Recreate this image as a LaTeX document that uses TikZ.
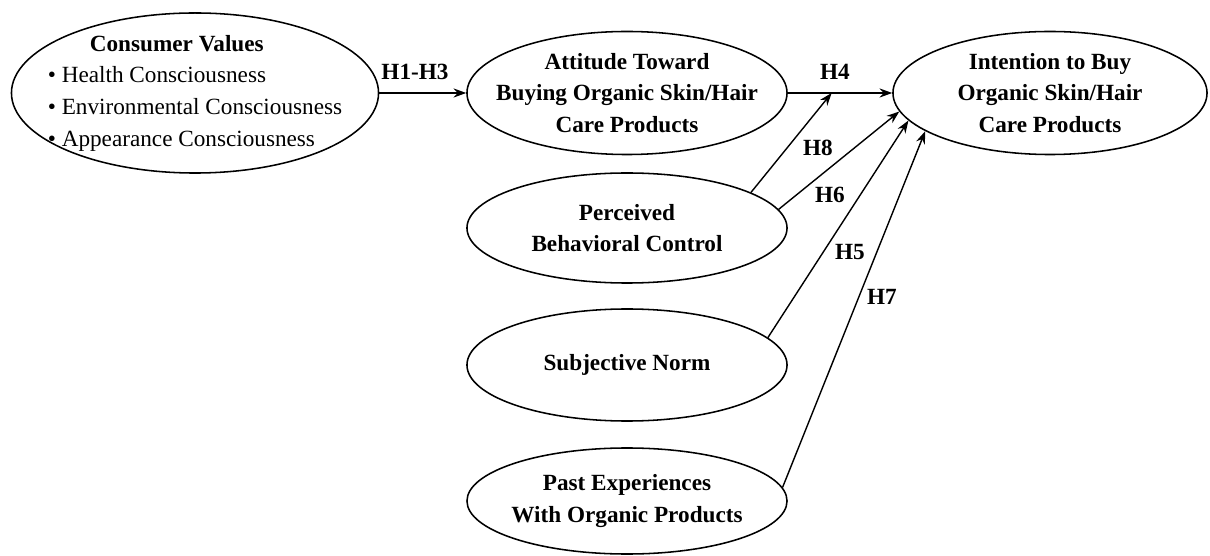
\documentclass[tikz,border=0pt]{standalone}
\usepackage{fontspec}
\setmainfont{Liberation Serif}
\usetikzlibrary{shapes.geometric,arrows.meta,calc}

\begin{document}
\begin{tikzpicture}[x=0.025cm, y=-0.025cm,
    ellip/.style={ellipse, draw, line width=1.1pt, inner xsep=-3cm, inner ysep=-2cm,
      align=center, font=\fontsize{16.5}{22.5}\selectfont\bfseries},
    hyp/.style={font=\fontsize{16.5}{19}\selectfont\bfseries},
    arr/.style={-{Stealth[length=9pt,width=6.5pt]}, line width=1pt}]
  \useasboundingbox (0,0) rectangle (1210,556);
  % Constructs
  \node[ellip, minimum width=9.175cm, minimum height=4cm, align=left,
        font=\fontsize{16.5}{22.5}\selectfont] (cv) at (195,93)
    {\hspace*{1.05cm}\textbf{Consumer Values}\\
     \textbullet{} Health Consciousness\\
     \textbullet{} Environmental Consciousness\\
     \textbullet{} Appearance Consciousness};
  \node[ellip, minimum width=8cm, minimum height=3.075cm] (att) at (627,93)
    {Attitude Toward\\ Buying Organic Skin/Hair\\ Care Products};
  \node[ellip, minimum width=7.85cm, minimum height=3.075cm] (int) at (1050,93)
    {Intention to Buy\\ Organic Skin/Hair\\ Care Products};
  \node[ellip, minimum width=8cm, minimum height=2.75cm] (pbc) at (627,228)
    {Perceived\\ Behavioral Control};
  \node[ellip, minimum width=8cm, minimum height=2.8cm] (sn) at (627,365)
    {Subjective Norm};
  \node[ellip, minimum width=8cm, minimum height=2.65cm] (past) at (627,501)
    {Past Experiences\\ With Organic Products};
  % Paths
  \draw[arr] (cv.east) -- (att.west);
  \draw[arr] (att.east) -- (int.west);
  \coordinate (mod) at ($(att.east)!0.42!(int.west)$);
  \draw[arr] (pbc.16) -- (mod);
  \draw[arr] (pbc.7) -- (int.187);
  \draw[arr] (sn.11) -- (int.191);
  \draw[arr] (past.5) -- (int.197);
  % Hypotheses
  \node[hyp] (h13) at (415,72) {H1-H3};
  \node[hyp] (h4) at (835,72) {H4};
  \node[hyp] (h8) at (818,148) {H8};
  \node[hyp] (h6) at (830,195) {H6};
  \node[hyp] (h5) at (850,252) {H5};
  \node[hyp] (h7) at (882,297) {H7};
\end{tikzpicture}
\end{document}
